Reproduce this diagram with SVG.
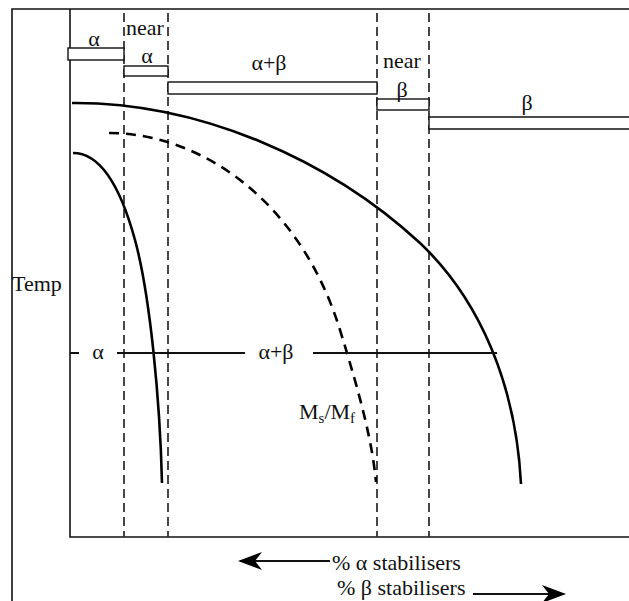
<svg xmlns="http://www.w3.org/2000/svg" width="629" height="601" viewBox="0 0 629 601">
<defs>
<style>
text{font-family:'Liberation Serif','DejaVu Serif',serif;font-size:22px;fill:#111}
.ax{stroke:#111;stroke-width:1.6;fill:none}
.box{stroke:#111;stroke-width:1.4;fill:#fff}
.dv{stroke:#333;stroke-width:1.8;stroke-dasharray:9 5;fill:none}
.cv{stroke:#000;stroke-width:2.6;fill:none}
.hl{stroke:#111;stroke-width:1.8;fill:none}
</style>
<marker id="ah" viewBox="0 0 24 18" refX="22" refY="9" markerWidth="24" markerHeight="18" markerUnits="userSpaceOnUse" orient="auto">
<path d="M0,0 L24,9 L0,18 L7,9 Z" fill="#000"/>
</marker>
</defs>
<rect width="629" height="601" fill="#fff"/>
<g id="frame">
<path class="ax" d="M12,601 V9 H629"/>
</g>
<g id="axes">
<path class="ax" d="M70,9 V537 H629"/>
</g>
<g id="connectors">
<path class="dv" d="M124,13 V537" stroke-width="1.3"/>
<path class="dv" d="M168,13 V537"/>
<path class="dv" d="M377,13 V537"/>
<path class="dv" d="M429,13 V537"/>
<path class="cv" d="M72,103 C200,102 330,160 420,243 C480,300 516,385 521,484"/>
<path class="cv" d="M109,133 C200,133 300,200 340,330 C360,395 372,440 376,482" stroke-dasharray="10 7"/>
<path class="cv" d="M73,153 C100,153 120,185 135,240 C150,295 160,400 162,483"/>
<path class="hl" d="M70,353 H79 M117,353 H245 M313,353 H497"/>
<path class="hl" d="M330,561 H240" marker-end="url(#ah)"/>
<path class="hl" d="M473,594 H564" marker-end="url(#ah)"/>
</g>
<g id="box-alpha">
<rect class="box" x="68" y="48" width="56" height="12"/>
<text x="94" y="46" text-anchor="middle">α</text>
</g>
<g id="box-near-alpha">
<rect class="box" x="124" y="66" width="44" height="10"/>
<text x="145" y="35" text-anchor="middle">near</text>
<text x="147" y="63" text-anchor="middle">α</text>
</g>
<g id="box-alpha-beta">
<rect class="box" x="168" y="82" width="209" height="12"/>
<text x="269" y="70" text-anchor="middle">α+β</text>
</g>
<g id="box-near-beta">
<rect class="box" x="377" y="99" width="52" height="11"/>
<text x="402" y="68" text-anchor="middle">near</text>
<text x="402" y="97" text-anchor="middle">β</text>
</g>
<g id="box-beta">
<path class="box" d="M629,117 H429 V129 H629"/>
<text x="527" y="110" text-anchor="middle">β</text>
</g>
<g id="labels">
<text x="12" y="291">Temp</text>
<text x="98" y="359" text-anchor="middle">α</text>
<text x="276" y="359" text-anchor="middle">α+β</text>
<text x="299" y="419">M<tspan font-size="15" dy="4">s</tspan><tspan dy="-4">/M</tspan><tspan font-size="15" dy="4">f</tspan></text>
<text x="332" y="570">% α stabilisers</text>
<text x="337" y="595">% β stabilisers</text>
</g>
</svg>
